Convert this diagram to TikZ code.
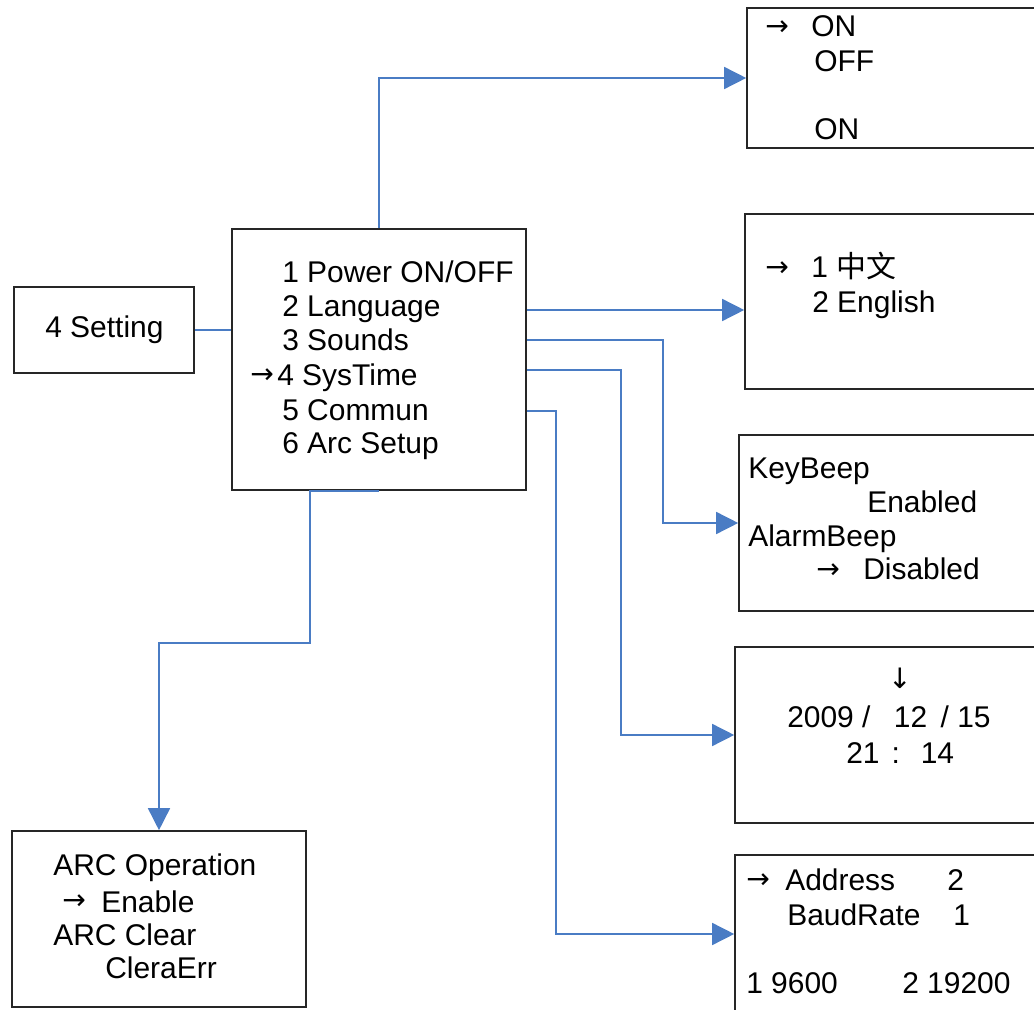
\documentclass[tikz,border=0pt]{standalone}
\usepackage{fontspec}
\setmainfont{Liberation Sans}
\newfontfamily\cjk{Noto Sans CJK SC}
\newfontfamily\pfeilfont{DejaVu Sans}
\usetikzlibrary{arrows.meta}
\definecolor{linienblau}{HTML}{4A7CC4}
\tikzset{
  kasten/.style={draw=black!85, line width=1.1pt, inner sep=0pt},
  txt/.style={anchor=base west, inner sep=0pt, font=\fontsize{21.3}{25}\selectfont},
  pf/.style={anchor=west, inner sep=0pt, font=\pfeilfont\fontsize{20}{22}\selectfont},
  verb/.style={draw=linienblau, line width=1.1pt},
  pfeil/.style={verb, -{Triangle[length=0.55cm,width=0.55cm]}},
}
\begin{document}
\begin{tikzpicture}[x=0.025cm,y=-0.025cm]
    \useasboundingbox (0,0) rectangle (1034,1010);
    % Kaesten:
    \node[kasten, minimum width=4.5cm, minimum height=2.15cm] (setting) at (104,330) {};
    \node[kasten, minimum width=7.35cm, minimum height=6.525cm] (menu) at (379,359.5) {};
    \node[kasten, minimum width=7.325cm, minimum height=3.5cm] (onoff) at (893.5,78) {};
    \node[kasten, minimum width=7.375cm, minimum height=4.375cm] (lang) at (892.5,301.5) {};
    \node[kasten, minimum width=7.525cm, minimum height=4.4cm] (sounds) at (889.5,523) {};
    \node[kasten, minimum width=7.625cm, minimum height=4.4cm] (systime) at (887.5,735) {};
    \node[kasten, minimum width=7.625cm, minimum height=3.95cm] (commun) at (887.5,934) {};
    \node[kasten, minimum width=7.35cm, minimum height=4.4cm] (arc) at (159,919) {};
    % Texte:
    \node[txt] (tset) at (45,338) {4 Setting};
    \node[txt] (t1) at (282,283) {1 Power ON/OFF};
    \node[txt] (t2) at (282,317) {2 Language};
    \node[txt] (t3) at (282,351) {3 Sounds};
    \node[pf] (p4) at (250,376) {→};
    \node[txt] (t4) at (277,386) {4 SysTime};
    \node[txt] (t5) at (282,421) {5 Commun};
    \node[txt] (t6) at (282,454) {6 Arc Setup};
    \node[pf] (pon) at (765,28) {→};
    \node[txt] (on1) at (811,37) {ON};
    \node[txt] (off) at (814,72) {OFF};
    \node[txt] (on2) at (814,140) {ON};
    \node[pf] (plang) at (765,269) {→};
    \node[txt] (cn) at (811,278) {1 {\cjk 中文}};
    \node[txt] (en) at (812,313) {2 English};
    \node[txt] (kb) at (748,479) {KeyBeep};
    \node[txt] (ena) at (867,513) {Enabled};
    \node[txt] (ab) at (748,546) {AlarmBeep};
    \node[pf] (pdis) at (816,571) {→};
    \node[txt] (dis) at (863,580) {Disabled};
    \node[pf, anchor=north] (pdate) at (900,668) {↓};
    \node[txt] (datum) at (787,727) {2009 /\hspace{0.78em}12\hspace{0.45em}/ 15};
    \node[txt] (zeit) at (846,763) {21\hspace{0.4em}:\hspace{0.7em}14};
    \node[pf] (padr) at (746,881) {→};
    \node[txt] (adr) at (785,890) {Address};
    \node[txt] (adrw) at (947,890) {2};
    \node[txt] (baud) at (787,925) {BaudRate};
    \node[txt] (baudw) at (953,925) {1};
    \node[txt] (b1) at (746,993) {1 9600};
    \node[txt] (b2) at (902,993) {2 19200};
    \node[txt] (arcop) at (53,875) {ARC Operation};
    \node[pf] (parc) at (62,902) {→};
    \node[txt] (arcen) at (101,912) {Enable};
    \node[txt] (arccl) at (53,945) {ARC Clear};
    \node[txt] (arcerr) at (105,978) {CleraErr};
    % Verbindungen:
    \coordinate (m2) at (menu.east |- 0,310);
    \coordinate (m3) at (menu.east |- 0,340);
    \coordinate (m4) at (menu.east |- 0,370);
    \coordinate (m5) at (menu.east |- 0,411);
    \draw[verb] (setting.east) -- (setting.east -| menu.west);
    \draw[pfeil] (menu.north) |- (onoff.west);
    \draw[pfeil] (m2) -- (m2 -| lang.west);
    \draw[pfeil] (m3) -- ++(136,0) |- (sounds.west);
    \draw[pfeil] (m4) -- ++(94,0) |- (systime.west);
    \draw[pfeil] (m5) -- ++(29,0) |- (commun.west);
    \draw[pfeil] (menu.south) -- ++(-69,0) -- ++(0,152) -| (arc.north);
\end{tikzpicture}
\end{document}
